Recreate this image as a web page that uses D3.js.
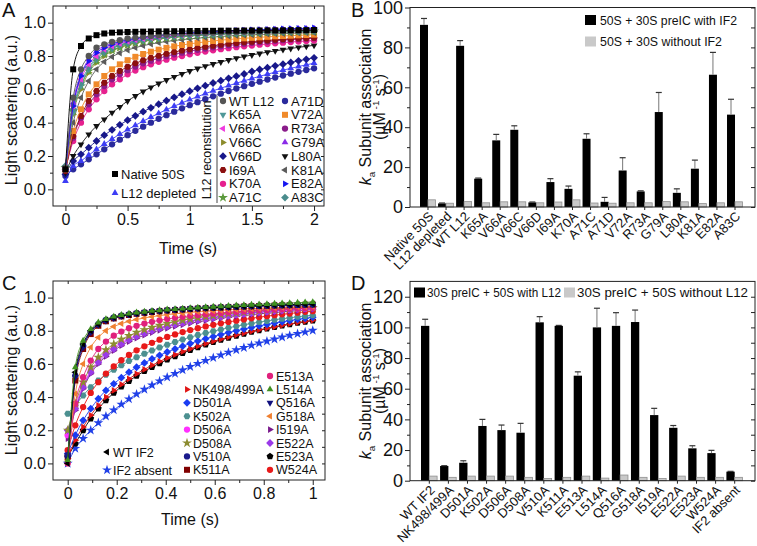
<!DOCTYPE html>
<html><head><meta charset="utf-8">
<script src="https://cdn.jsdelivr.net/npm/d3@7"></script>
<style>body{margin:0;background:#fff}svg{display:block}text{font-family:"Liberation Sans",Arial,sans-serif;fill:#111}</style>
</head><body><svg id="c" width="757" height="546"></svg>
<script>
// ---------------- DATA ----------------
// Panel A: time points (s) and light scattering values
const timeA = [0,0.0625,0.125,0.1875,0.25,0.3125,0.375,0.4375,0.5,0.5625,0.625,0.6875,0.75,0.8125,0.875,0.9375,1,1.0625,1.125,1.1875,1.25,1.3125,1.375,1.4375,1.5,1.5625,1.625,1.6875,1.75,1.8125,1.875,1.9375,2];
const native50S = [0.12,0.72,0.86,0.905,0.925,0.935,0.94,0.942,0.944,0.945,0.946,0.947,0.948,0.948,0.949,0.949,0.95,0.95,0.951,0.951,0.952,0.952,0.952,0.953,0.953,0.953,0.954,0.954,0.954,0.955,0.955,0.955,0.956];
const l12Depleted = [0.05,0.14,0.17,0.205,0.24,0.272,0.302,0.331,0.358,0.384,0.409,0.433,0.456,0.478,0.499,0.519,0.538,0.556,0.574,0.591,0.607,0.622,0.637,0.651,0.665,0.678,0.691,0.703,0.715,0.726,0.737,0.747,0.757];
const wtL12 = [0.13,0.55,0.72,0.80,0.85,0.87,0.885,0.895,0.905,0.91,0.915,0.92,0.924,0.927,0.93,0.933,0.935,0.937,0.939,0.94,0.942,0.943,0.944,0.945,0.946,0.947,0.948,0.949,0.95,0.951,0.952,0.953,0.954];
const k65A = [0.13,0.46,0.62,0.72,0.78,0.82,0.845,0.862,0.876,0.887,0.896,0.903,0.909,0.914,0.918,0.922,0.925,0.928,0.931,0.933,0.935,0.937,0.939,0.941,0.943,0.944,0.946,0.947,0.948,0.95,0.951,0.952,0.953];
const v66A = [0.13,0.50,0.66,0.75,0.80,0.84,0.86,0.875,0.888,0.897,0.905,0.911,0.917,0.921,0.925,0.929,0.932,0.935,0.937,0.94,0.942,0.944,0.946,0.947,0.949,0.95,0.952,0.953,0.954,0.955,0.956,0.957,0.958];
const v66C = [0.12,0.45,0.60,0.70,0.76,0.80,0.83,0.85,0.865,0.877,0.887,0.895,0.902,0.907,0.912,0.916,0.92,0.923,0.926,0.929,0.931,0.933,0.935,0.937,0.939,0.94,0.942,0.943,0.944,0.945,0.946,0.947,0.948];
const v66D = [0.09,0.17,0.21,0.25,0.29,0.325,0.357,0.387,0.415,0.441,0.466,0.489,0.511,0.532,0.552,0.571,0.589,0.606,0.622,0.638,0.652,0.666,0.679,0.692,0.707,0.719,0.73,0.741,0.751,0.761,0.771,0.78,0.789];
const i69A = [0.11,0.32,0.44,0.53,0.59,0.64,0.68,0.71,0.735,0.756,0.774,0.789,0.802,0.814,0.824,0.833,0.841,0.849,0.856,0.862,0.868,0.873,0.878,0.882,0.886,0.89,0.893,0.897,0.9,0.902,0.905,0.907,0.91];
const k70A = [0.12,0.29,0.40,0.48,0.54,0.59,0.63,0.66,0.69,0.713,0.733,0.75,0.765,0.778,0.79,0.8,0.81,0.819,0.827,0.834,0.841,0.847,0.853,0.858,0.863,0.868,0.872,0.876,0.88,0.884,0.887,0.89,0.893];
const a71C = [0.13,0.47,0.62,0.71,0.77,0.81,0.835,0.853,0.867,0.879,0.888,0.896,0.902,0.908,0.913,0.917,0.92,0.924,0.927,0.929,0.932,0.934,0.936,0.938,0.939,0.941,0.942,0.944,0.945,0.946,0.947,0.948,0.949];
const a71D = [0.08,0.12,0.15,0.18,0.21,0.24,0.27,0.298,0.325,0.351,0.376,0.4,0.423,0.445,0.466,0.486,0.505,0.523,0.541,0.558,0.574,0.59,0.605,0.619,0.633,0.646,0.659,0.671,0.683,0.694,0.705,0.716,0.726];
const v72A = [0.12,0.35,0.48,0.57,0.63,0.68,0.72,0.75,0.775,0.795,0.812,0.826,0.838,0.849,0.858,0.866,0.873,0.879,0.885,0.89,0.895,0.899,0.903,0.906,0.909,0.912,0.915,0.918,0.92,0.922,0.924,0.926,0.928];
const r73A = [0.12,0.31,0.43,0.51,0.57,0.62,0.66,0.69,0.715,0.737,0.756,0.772,0.786,0.799,0.81,0.82,0.829,0.837,0.845,0.852,0.858,0.864,0.869,0.874,0.879,0.883,0.887,0.891,0.895,0.898,0.901,0.904,0.907];
const g79A = [0.12,0.52,0.69,0.78,0.83,0.86,0.875,0.888,0.898,0.906,0.913,0.918,0.923,0.927,0.931,0.934,0.937,0.94,0.942,0.944,0.946,0.948,0.95,0.952,0.953,0.955,0.956,0.958,0.959,0.96,0.962,0.963,0.964];
const l80A = [0.10,0.20,0.27,0.33,0.38,0.42,0.46,0.495,0.53,0.56,0.587,0.612,0.635,0.656,0.675,0.693,0.71,0.725,0.739,0.752,0.764,0.776,0.787,0.797,0.806,0.815,0.823,0.831,0.838,0.845,0.852,0.858,0.864];
const k81A = [0.12,0.40,0.55,0.65,0.72,0.765,0.795,0.818,0.836,0.85,0.862,0.872,0.88,0.887,0.893,0.898,0.903,0.907,0.911,0.914,0.917,0.92,0.923,0.925,0.927,0.929,0.931,0.933,0.935,0.936,0.938,0.939,0.94];
const e82A = [0.12,0.50,0.68,0.77,0.82,0.85,0.87,0.885,0.895,0.905,0.912,0.918,0.923,0.928,0.932,0.936,0.939,0.942,0.945,0.947,0.949,0.951,0.953,0.955,0.957,0.958,0.96,0.961,0.963,0.964,0.965,0.966,0.968];
const a83C = [0.14,0.48,0.64,0.73,0.79,0.825,0.848,0.865,0.878,0.888,0.896,0.903,0.909,0.914,0.918,0.921,0.924,0.927,0.929,0.931,0.933,0.935,0.937,0.938,0.94,0.941,0.943,0.944,0.945,0.946,0.947,0.948,0.949];

// Panel B
const catsB = ["Native 50S","L12 depleted","WT L12","K65A","V66A","V66C","V66D","I69A","K70A","A71C","A71D","V72A","R73A","G79A","L80A","K81A","E82A","A83C"];
const withIF2 = [91.3,1.8,80.8,14.2,33.4,38.7,2.3,12.5,9.1,34.2,2.6,18.3,7.8,47.6,7.1,19.2,66.3,46.3];
const withIF2Err = [3.2,0.2,2.6,0.3,3,2,0.2,1.7,1.4,2.5,2.2,6.4,0.3,9.8,2,4.3,11.2,7.7];
const withoutIF2 = [3.6,1.9,2.7,2.1,2.6,2.6,2.1,2.5,3.6,2.0,1.9,2.1,2.1,2.7,2.6,1.7,2.1,2.6];

// Panel C
const timeC = [0,0.031,0.063,0.094,0.125,0.156,0.188,0.219,0.25,0.281,0.313,0.344,0.375,0.406,0.438,0.469,0.5,0.531,0.563,0.594,0.625,0.656,0.688,0.719,0.75,0.781,0.813,0.844,0.875,0.906,0.938,0.969,1];
const wtIF2 = [0.0,0.55,0.72,0.80,0.84,0.865,0.88,0.89,0.898,0.905,0.91,0.915,0.919,0.923,0.926,0.929,0.932,0.935,0.937,0.939,0.941,0.943,0.945,0.947,0.949,0.951,0.953,0.954,0.956,0.957,0.959,0.96,0.962];
const if2Absent = [0.0,0.09,0.15,0.2,0.245,0.285,0.322,0.356,0.388,0.418,0.446,0.472,0.497,0.52,0.542,0.563,0.583,0.602,0.62,0.637,0.653,0.669,0.684,0.698,0.712,0.725,0.737,0.749,0.761,0.772,0.782,0.792,0.802];
const nk498 = [0.03,0.14,0.22,0.29,0.35,0.40,0.44,0.476,0.51,0.54,0.567,0.592,0.615,0.636,0.656,0.674,0.691,0.707,0.722,0.736,0.749,0.762,0.774,0.785,0.796,0.806,0.815,0.824,0.833,0.841,0.849,0.856,0.863];
const d501A = [0.06,0.17,0.26,0.33,0.39,0.44,0.48,0.517,0.55,0.58,0.606,0.63,0.652,0.672,0.69,0.707,0.723,0.738,0.752,0.765,0.777,0.789,0.8,0.81,0.82,0.829,0.838,0.846,0.854,0.861,0.868,0.875,0.881];
const k502A = [0.30,0.35,0.41,0.46,0.50,0.535,0.565,0.592,0.617,0.64,0.661,0.681,0.699,0.716,0.732,0.747,0.761,0.774,0.786,0.797,0.808,0.818,0.827,0.836,0.844,0.852,0.859,0.866,0.872,0.878,0.884,0.889,0.894];
const d506A = [0.17,0.34,0.47,0.56,0.62,0.665,0.70,0.728,0.752,0.772,0.79,0.805,0.818,0.83,0.84,0.85,0.859,0.867,0.874,0.881,0.887,0.893,0.898,0.903,0.908,0.912,0.916,0.92,0.923,0.927,0.93,0.933,0.936];
const d508A = [0.2,0.36,0.49,0.58,0.64,0.685,0.72,0.748,0.77,0.79,0.806,0.82,0.833,0.844,0.854,0.863,0.871,0.878,0.885,0.891,0.897,0.902,0.907,0.911,0.915,0.919,0.923,0.926,0.929,0.932,0.935,0.938,0.94];
const v510A = [0.05,0.53,0.71,0.795,0.84,0.865,0.88,0.891,0.899,0.906,0.911,0.916,0.92,0.924,0.927,0.93,0.933,0.935,0.938,0.94,0.942,0.944,0.945,0.947,0.949,0.95,0.952,0.953,0.954,0.955,0.956,0.957,0.958];
const k511A = [0.04,0.50,0.69,0.78,0.83,0.857,0.874,0.886,0.895,0.902,0.908,0.913,0.918,0.922,0.925,0.928,0.931,0.934,0.936,0.938,0.94,0.942,0.944,0.946,0.947,0.949,0.95,0.952,0.953,0.954,0.955,0.957,0.958];
const e513A = [0.0,0.36,0.52,0.62,0.69,0.735,0.77,0.795,0.815,0.83,0.843,0.854,0.863,0.871,0.878,0.884,0.89,0.895,0.899,0.903,0.907,0.911,0.914,0.917,0.92,0.923,0.925,0.928,0.93,0.932,0.934,0.936,0.938];
const l514A = [0.02,0.58,0.74,0.81,0.85,0.87,0.885,0.895,0.903,0.91,0.915,0.92,0.924,0.928,0.931,0.934,0.937,0.94,0.943,0.945,0.948,0.95,0.953,0.955,0.957,0.959,0.961,0.963,0.965,0.967,0.969,0.971,0.973];
const q516A = [0.03,0.52,0.70,0.79,0.835,0.86,0.877,0.888,0.897,0.904,0.91,0.915,0.919,0.923,0.926,0.929,0.932,0.934,0.937,0.939,0.941,0.943,0.945,0.946,0.948,0.95,0.951,0.953,0.954,0.955,0.957,0.958,0.959];
const g518A = [0.02,0.42,0.60,0.70,0.76,0.80,0.825,0.843,0.857,0.868,0.877,0.885,0.891,0.897,0.902,0.906,0.91,0.914,0.917,0.92,0.923,0.926,0.928,0.931,0.933,0.935,0.937,0.939,0.941,0.942,0.944,0.946,0.947];
const i519A = [0.15,0.32,0.45,0.54,0.60,0.645,0.68,0.71,0.735,0.755,0.773,0.789,0.803,0.815,0.826,0.836,0.845,0.853,0.861,0.868,0.875,0.881,0.887,0.892,0.897,0.902,0.906,0.91,0.914,0.918,0.922,0.925,0.928];
const e522A = [0.2,0.33,0.46,0.55,0.61,0.655,0.69,0.72,0.745,0.766,0.784,0.8,0.814,0.826,0.837,0.847,0.856,0.864,0.872,0.879,0.885,0.891,0.897,0.902,0.907,0.912,0.916,0.92,0.924,0.928,0.932,0.935,0.938];
const e523A = [0.04,0.12,0.2,0.27,0.33,0.38,0.425,0.463,0.497,0.528,0.556,0.581,0.604,0.626,0.646,0.665,0.683,0.7,0.716,0.731,0.745,0.758,0.77,0.782,0.793,0.803,0.813,0.822,0.831,0.839,0.847,0.854,0.861];
const w524A = [0.08,0.23,0.34,0.425,0.49,0.542,0.585,0.622,0.654,0.682,0.706,0.727,0.746,0.763,0.778,0.792,0.804,0.815,0.826,0.836,0.845,0.853,0.861,0.868,0.875,0.882,0.888,0.894,0.899,0.904,0.909,0.914,0.918];

// Panel D
const catsD = ["WT IF2","NK498/499A","D501A","K502A","D506A","D508A","V510A","K511A","E513A","L514A","Q516A","G518A","I519A","E522A","E523A","W524A","IF2 absent"];
const withL12 = [101,9.6,11.7,35.7,33,31.3,103.3,101,68.5,100,101,103.5,42.8,34.5,21.1,18,5.9];
const withL12Err = [4.3,0.2,1.3,4.3,3.3,6.1,3.7,0.3,2.5,12.5,8.6,7.8,4.4,1.5,1.7,1.8,0.2];
const withoutL12 = [3,2.2,3,3,3,2.2,1.5,2.2,3,1.7,3.7,2.2,1.5,3,2.2,2.2,2.2];

// Tick values
const ticksAx = [0,0.5,1,1.5,2], ticksAxLabels = ["0","0.5","1","1.5","2"], minorAx = [0.25,0.75,1.25,1.75];
const ticksY = [0,0.2,0.4,0.6,0.8,1.0], ticksYLabels = ["0.0","0.2","0.4","0.6","0.8","1.0"], minorY = [0.1,0.3,0.5,0.7,0.9];
const ticksCx = [0,0.2,0.4,0.6,0.8,1], ticksCxLabels = ["0","0.2","0.4","0.6","0.8","1"], minorCx = [0.1,0.3,0.5,0.7,0.9];
const ticksB = [0,20,40,60,80,100], minorB = [10,30,50,70,90];
const ticksD = [0,20,40,60,80,100,120], minorD = [10,30,50,70,90,110];

// ---------------- STYLES ----------------
const seriesA = [
  {name:"A71D", v:a71D, color:"#2a2a9c", shape:"circle", col:2, row:0},
  {name:"L12 depleted", v:l12Depleted, color:"#3d3df5", shape:"triUp", col:0, row:1},
  {name:"V66D", v:v66D, color:"#18188a", shape:"diamond", col:1, row:4},
  {name:"L80A", v:l80A, color:"#111", shape:"triDown", col:2, row:4},
  {name:"K70A", v:k70A, color:"#e6208e", shape:"circle", col:1, row:6},
  {name:"R73A", v:r73A, color:"#8a1c8a", shape:"circle", col:2, row:2},
  {name:"I69A", v:i69A, color:"#8c1010", shape:"hexagon", col:1, row:5},
  {name:"V72A", v:v72A, color:"#f08a2a", shape:"square", col:2, row:1},
  {name:"K81A", v:k81A, color:"#5a5a5a", shape:"triLeft", col:2, row:5},
  {name:"V66C", v:v66C, color:"#8c8c2c", shape:"triRight", col:1, row:3},
  {name:"A71C", v:a71C, color:"#5c9a3c", shape:"star", col:1, row:7},
  {name:"K65A", v:k65A, color:"#4f9898", shape:"triDown", col:1, row:1},
  {name:"A83C", v:a83C, color:"#4a8c8c", shape:"diamond", col:2, row:7},
  {name:"V66A", v:v66A, color:"#f03adf", shape:"triLeft", col:1, row:2},
  {name:"G79A", v:g79A, color:"#8a2be8", shape:"triUp", col:2, row:3},
  {name:"E82A", v:e82A, color:"#1515f0", shape:"triRight", col:2, row:6},
  {name:"WT L12", v:wtL12, color:"#555", shape:"circle", col:1, row:0},
  {name:"Native 50S", v:native50S, color:"#000", shape:"square", col:0, row:0}
];
const seriesC = [
  {name:"IF2 absent", v:if2Absent, color:"#2040e8", shape:"star", col:0, row:1},
  {name:"E523A", v:e523A, color:"#000", shape:"pentagon", col:2, row:6},
  {name:"NK498/499A", v:nk498, color:"#e01414", shape:"triRight", col:1, row:1},
  {name:"D501A", v:d501A, color:"#1a3cf2", shape:"diamond", col:1, row:2},
  {name:"K502A", v:k502A, color:"#4c9090", shape:"hexagon", col:1, row:3},
  {name:"W524A", v:w524A, color:"#e81a1a", shape:"circle", col:2, row:7},
  {name:"I519A", v:i519A, color:"#7a1a8c", shape:"triRight", col:2, row:4},
  {name:"D506A", v:d506A, color:"#ff30ff", shape:"circle", col:1, row:4},
  {name:"E522A", v:e522A, color:"#9a3ae8", shape:"diamond", col:2, row:5},
  {name:"D508A", v:d508A, color:"#8c8c30", shape:"star", col:1, row:5},
  {name:"E513A", v:e513A, color:"#e0207c", shape:"circle", col:2, row:0},
  {name:"G518A", v:g518A, color:"#f08030", shape:"triLeft", col:2, row:3},
  {name:"K511A", v:k511A, color:"#800000", shape:"square", col:1, row:7},
  {name:"V510A", v:v510A, color:"#1a1a8c", shape:"circle", col:1, row:6},
  {name:"Q516A", v:q516A, color:"#10107e", shape:"triDown", col:2, row:2},
  {name:"WT IF2", v:wtIF2, color:"#000", shape:"triLeft", col:0, row:0},
  {name:"L514A", v:l514A, color:"#3f8f20", shape:"triUp", col:2, row:1}
];

// ---------------- HELPERS ----------------
const svg = d3.select("#c");
function poly(pts){return "M"+pts.map(p=>p[0].toFixed(2)+","+p[1].toFixed(2)).join("L")+"Z";}
function regular(n,r,rot){const p=[];for(let i=0;i<n;i++){const a=rot+i*2*Math.PI/n;p.push([r*Math.cos(a),r*Math.sin(a)]);}return poly(p);}
function shapePath(shape,s){
  const r=s/2;
  switch(shape){
    case "square": return poly([[-r,-r],[r,-r],[r,r],[-r,r]]);
    case "circle": return d3.symbol(d3.symbolCircle,Math.PI*r*r*1.1)();
    case "triUp": return regular(3,r*1.3,-Math.PI/2);
    case "triDown": return regular(3,r*1.3,Math.PI/2);
    case "triLeft": return regular(3,r*1.3,Math.PI);
    case "triRight": return regular(3,r*1.3,0);
    case "diamond": return regular(4,r*1.3,0);
    case "hexagon": return regular(6,r*1.15,0);
    case "pentagon": return regular(5,r*1.2,-Math.PI/2);
    case "star": return d3.symbol(d3.symbolStar,s*s*0.85)();
  }
}
function styleAxis(g,fs){
  g.select(".domain").remove();
  g.selectAll("line").attr("stroke","#222").attr("stroke-width",1);
  g.selectAll("text").attr("font-size",fs).attr("font-family","Liberation Sans, Arial, sans-serif").attr("fill","#111");
}
function frame(x0,x1,y0,y1){
  svg.append("rect").attr("x",x0).attr("y",y0).attr("width",x1-x0).attr("height",y1-y0)
    .attr("fill","none").attr("stroke","#222").attr("stroke-width",1);
}
function linAxes(x,y,xt,xl,xm,yt,yl,ym,fs){
  const [x0,x1]=x.range(), [y1,y0]=y.range();
  const ax=svg.append("g").attr("transform",`translate(0,${y1})`)
    .call(d3.axisBottom(x).tickValues(xt).tickFormat((d,i)=>xl[i]).tickSizeInner(5).tickSizeOuter(0).tickPadding(3));
  styleAxis(ax,fs);
  const axm=svg.append("g").attr("transform",`translate(0,${y1})`).call(d3.axisBottom(x).tickValues(xm).tickFormat("").tickSizeInner(3).tickSizeOuter(0));
  styleAxis(axm,fs);
  const at=svg.append("g").attr("transform",`translate(0,${y0})`).call(d3.axisTop(x).tickValues(xt.concat(xm)).tickFormat("").tickSizeInner(-3).tickSizeOuter(0));
  styleAxis(at,fs);
  const ay=svg.append("g").attr("transform",`translate(${x0},0)`)
    .call(d3.axisLeft(y).tickValues(yt).tickFormat((d,i)=>yl[i]).tickSizeInner(5).tickSizeOuter(0).tickPadding(2));
  styleAxis(ay,fs);
  const aym=svg.append("g").attr("transform",`translate(${x0},0)`).call(d3.axisLeft(y).tickValues(ym).tickFormat("").tickSizeInner(3).tickSizeOuter(0));
  styleAxis(aym,fs);
  const ar=svg.append("g").attr("transform",`translate(${x1},0)`).call(d3.axisRight(y).tickValues(yt.concat(ym)).tickFormat("").tickSizeInner(-3).tickSizeOuter(0));
  styleAxis(ar,fs);
  frame(x0,x1,y0,y1);
}
function curves(x,y,time,series,ms){
  const line=d3.line().x(d=>x(d[0])).y(d=>y(d[1])).curve(d3.curveMonotoneX);
  series.forEach(s=>{
    const pts=time.map((t,i)=>[t,s.v[i]]).filter(p=>p[1]!==undefined);
    svg.append("path").attr("d",line(pts)).attr("fill","none").attr("stroke",s.color).attr("stroke-width",1).attr("opacity",0.9);
    svg.append("g").selectAll("path").data(pts).join("path")
      .attr("transform",d=>`translate(${x(d[0])},${y(d[1])})`)
      .attr("d",shapePath(s.shape,ms)).attr("fill",s.color);
  });
}
function legendItem(x,y,s,ms,fs){
  svg.append("path").attr("transform",`translate(${x},${y})`).attr("d",shapePath(s.shape,ms)).attr("fill",s.color);
  svg.append("text").attr("x",x+6).attr("y",y).attr("dy","0.36em").attr("font-size",fs).text(s.name);
}
function ylabel2(x,y,fs){
  const t1=svg.append("text").attr("transform",`translate(${x},${y}) rotate(-90)`).attr("text-anchor","middle").attr("font-size",fs);
  t1.append("tspan").attr("font-style","italic").text("k");
  t1.append("tspan").attr("font-size",fs*0.62).attr("dy",4).text("a");
  t1.append("tspan").attr("dy",-4).text(" Subunit association");
  const t2=svg.append("text").attr("transform",`translate(${x+14},${y}) rotate(-90)`).attr("text-anchor","middle").attr("font-size",fs);
  t2.append("tspan").text("(\u00B5M");
  t2.append("tspan").attr("font-size",fs*0.62).attr("dy",-6).text(" -1");
  t2.append("tspan").attr("dy",6).text(" s");
  t2.append("tspan").attr("font-size",fs*0.62).attr("dy",-6).text("-1");
  t2.append("tspan").attr("dy",6).text(")");
}
function legendText(x,y,len,txt){
  svg.append("text").attr("x",x).attr("y",y).attr("dy","0.36em").attr("font-size",13)
    .attr("textLength",len).attr("lengthAdjust","spacingAndGlyphs").text(txt);
}
function barPanel(cats,vals,errs,vals2,x,y){
  const [x0,x1]=[410,755], [yb,yt]=y.range();
  const sub=d3.scaleBand().domain([0,1]).range([0,x.bandwidth()]).paddingInner(0);
  const g=svg.append("g");
  cats.forEach((c,i)=>{
    g.append("rect").attr("x",x(c)+sub(0)).attr("y",y(vals[i])).attr("width",sub.bandwidth()).attr("height",yb-y(vals[i])).attr("fill","#000");
    g.append("rect").attr("x",x(c)+sub(1)).attr("y",y(vals2[i])).attr("width",sub.bandwidth()-0.5).attr("height",yb-y(vals2[i])).attr("fill","#c9c9c9").attr("stroke","#8f8f8f").attr("stroke-width",0.8);
    const cx=x(c)+sub(0)+sub.bandwidth()/2;
    g.append("line").attr("x1",cx).attr("x2",cx).attr("y1",y(vals[i])).attr("y2",y(vals[i]+errs[i])).attr("stroke","#777").attr("stroke-width",1);
    g.append("line").attr("x1",cx-3).attr("x2",cx+3).attr("y1",y(vals[i]+errs[i])).attr("y2",y(vals[i]+errs[i])).attr("stroke","#333").attr("stroke-width",1.2);
    svg.append("text").attr("transform",`translate(${x(c)+x.bandwidth()/2+3},${yb+7}) rotate(-45)`)
      .attr("text-anchor","end").attr("dy","0.35em").attr("font-size",13).text(c);
  });
  const ab=svg.append("g").attr("transform",`translate(0,${yb})`).call(d3.axisBottom(x).tickFormat("").tickSizeInner(3).tickSizeOuter(0));
  styleAxis(ab,13);
  frame(x0,x1,yt,yb);
}

// ---------------- PANEL A ----------------
const xA=d3.scaleLinear().domain([-0.1,2.08]).range([53,324]);
const yA=d3.scaleLinear().domain([-0.1,1.1]).range([206,6]);
curves(xA,yA,timeA,seriesA,6);
linAxes(xA,yA,ticksAx,ticksAxLabels,minorAx,ticksY,ticksYLabels,minorY,16);
svg.append("text").attr("x",188).attr("y",254).attr("text-anchor","middle").attr("font-size",16).text("Time (s)");
svg.append("text").attr("transform","translate(17,110) rotate(-90)").attr("text-anchor","middle").attr("font-size",16).text("Light scattering (a.u.)");
svg.append("text").attr("x",2).attr("y",17).attr("font-size",20).text("A");
// legend A
const rowsA=[101,114.8,128.6,142.4,156.2,170,183.8,197.6];
seriesA.forEach(s=>{
  if(s.col===0) legendItem(115,[174,193][s.row],s,6,13);
  else legendItem(s.col===1?223:285,rowsA[s.row],s,6,13);
});
svg.append("text").attr("transform","translate(211,150) rotate(-90)").attr("text-anchor","middle").attr("font-size",12.5).text("L12 reconstitution");
svg.append("line").attr("x1",217).attr("x2",217).attr("y1",96).attr("y2",203).attr("stroke","#444").attr("stroke-width",1);

// ---------------- PANEL B ----------------
const xB=d3.scaleBand().domain(catsB).range([420,743]).paddingInner(0.115).paddingOuter(0);
const yB=d3.scaleLinear().domain([0,100]).range([207,7.5]);
barPanel(catsB,withIF2,withIF2Err,withoutIF2,xB,yB);
{
  const ay=svg.append("g").attr("transform","translate(410,0)").call(d3.axisLeft(yB).tickValues(ticksB).tickSizeInner(5).tickSizeOuter(0).tickPadding(2));
  styleAxis(ay,18);
  const aym=svg.append("g").attr("transform","translate(410,0)").call(d3.axisLeft(yB).tickValues(minorB).tickFormat("").tickSizeInner(3).tickSizeOuter(0));
  styleAxis(aym,18);
  const ar=svg.append("g").attr("transform","translate(755,0)").call(d3.axisRight(yB).tickValues(ticksB.concat(minorB)).tickFormat("").tickSizeInner(-4).tickSizeOuter(0));
  styleAxis(ar,18);
}
svg.append("rect").attr("x",585).attr("y",15).attr("width",11).attr("height",10).attr("fill","#000");
legendText(600,20,137,"50S + 30S preIC with IF2");
svg.append("rect").attr("x",585).attr("y",36.5).attr("width",11).attr("height",10).attr("fill","#c9c9c9");
legendText(600,41.5,122,"50S + 30S without IF2");
ylabel2(371,107,16);
svg.append("text").attr("x",351).attr("y",17).attr("font-size",20).text("B");

// ---------------- PANEL C ----------------
const xC=d3.scaleLinear().domain([-0.06,1.05]).range([53,325]);
const yC=d3.scaleLinear().domain([-0.1,1.1]).range([480,281]);
curves(xC,yC,timeC,seriesC,6);
linAxes(xC,yC,ticksCx,ticksCxLabels,minorCx,ticksY,ticksYLabels,minorY,16);
svg.append("text").attr("x",190).attr("y",525).attr("text-anchor","middle").attr("font-size",16).text("Time (s)");
svg.append("text").attr("transform","translate(17,380) rotate(-90)").attr("text-anchor","middle").attr("font-size",16).text("Light scattering (a.u.)");
svg.append("text").attr("x",2).attr("y",290).attr("font-size",20).text("C");
const rowsC=[376,389.4,402.8,416.2,429.6,443,456.4,469.8];
seriesC.forEach(s=>{
  if(s.col===0) legendItem(107,[452,470][s.row],s,6,12.5);
  else legendItem(s.col===1?187:270,rowsC[s.row],s,6,12.5);
});

// ---------------- PANEL D ----------------
const xD=d3.scaleBand().domain(catsD).range([421,743]).paddingInner(0.13).paddingOuter(0);
const yD=d3.scaleLinear().domain([0,130]).range([480.7,281.4]);
barPanel(catsD,withL12,withL12Err,withoutL12,xD,yD);
{
  const ay=svg.append("g").attr("transform","translate(410,0)").call(d3.axisLeft(yD).tickValues(ticksD).tickSizeInner(5).tickSizeOuter(0).tickPadding(2));
  styleAxis(ay,18);
  const aym=svg.append("g").attr("transform","translate(410,0)").call(d3.axisLeft(yD).tickValues(minorD).tickFormat("").tickSizeInner(3).tickSizeOuter(0));
  styleAxis(aym,18);
  const ar=svg.append("g").attr("transform","translate(755,0)").call(d3.axisRight(yD).tickValues(ticksD.concat(minorD)).tickFormat("").tickSizeInner(-4).tickSizeOuter(0));
  styleAxis(ar,18);
}
svg.append("rect").attr("x",414).attr("y",287.5).attr("width",11).attr("height",10).attr("fill","#000");
legendText(427,292.5,134,"30S preIC + 50S with L12");
svg.append("rect").attr("x",564).attr("y",287.5).attr("width",11).attr("height",10).attr("fill","#c9c9c9");
legendText(577,292.5,171,"30S preIC + 50S without L12");
ylabel2(371,381,16);
svg.append("text").attr("x",351).attr("y",290).attr("font-size",20).text("D");
</script></body></html>
